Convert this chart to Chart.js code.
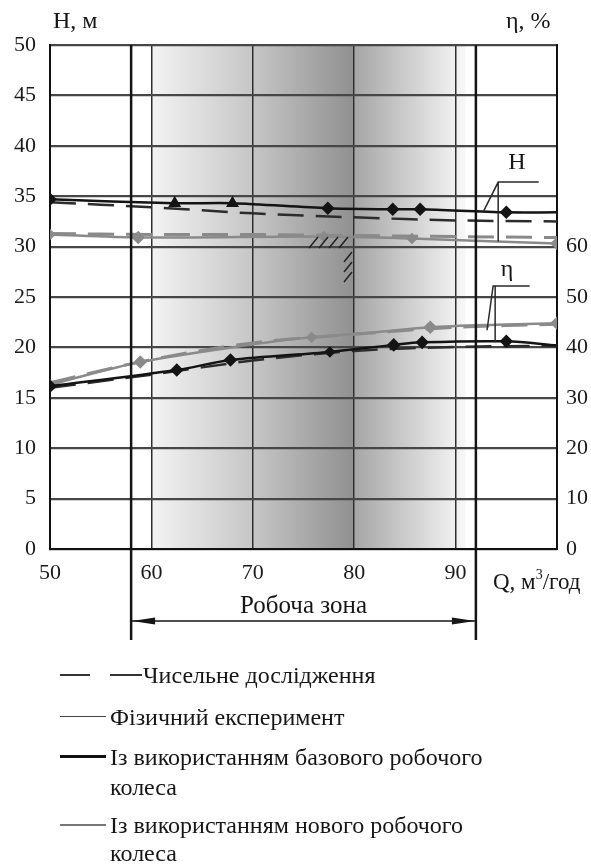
<!DOCTYPE html>
<html>
<head>
<meta charset="utf-8">
<script src="https://cdn.jsdelivr.net/npm/chart.js@4.4.1/dist/chart.umd.min.js"></script>
<style>
html, body { margin: 0; padding: 0; background: #fff; }
#wrap { position: relative; width: 591px; height: 865px; overflow: hidden; }
#c { position: absolute; left: 0; top: 0; }
.lg { position: absolute; font: 24px "Liberation Serif", "Times New Roman", serif; color: #161616; white-space: nowrap; line-height: 24px; height: 24px; }
.sw { position: absolute; height: 0; }
</style>
</head>
<body>
<div id="wrap">
  <canvas id="c" width="591" height="865"></canvas>

  <div class="sw" style="left:60px;top:674px;width:30px;border-top:2px solid #333"></div>
  <div class="sw" style="left:110px;top:674px;width:32px;border-top:2px solid #333"></div>
  <div class="lg" style="left:143px;top:663px">Чисельне дослідження</div>

  <div class="sw" style="left:60px;top:716px;width:46px;border-top:1.5px solid #444"></div>
  <div class="lg" style="left:110px;top:705px">Фізичний експеримент</div>

  <div class="sw" style="left:60px;top:755px;width:46px;border-top:3px solid #111"></div>
  <div class="lg" style="left:110px;top:745px">Із використанням базового робочого</div>
  <div class="lg" style="left:110px;top:775px">колеса</div>

  <div class="sw" style="left:60px;top:824px;width:46px;border-top:2px solid #777"></div>
  <div class="lg" style="left:110px;top:813px">Із використанням нового робочого</div>
  <div class="lg" style="left:110px;top:841px">колеса</div>
</div>
<script>
// осі
const qTicks = [50, 60, 70, 80, 90];
const etaTicks = [0, 10, 20, 30, 40, 50, 60];
const workZone = [58, 92];

// H, базове колесо, фізичний експеримент
const qHBaseExp = [50, 62.3, 68, 77.4, 83.8, 86.5, 95, 100];
const hBaseExp = [34.7, 34.3, 34.3, 33.8, 33.7, 33.7, 33.4, 33.4];
// чисельне дослідження (спільні Q)
const qNum = [50, 60, 70, 80, 90, 100];
const hBaseNum = [34.4, 33.9, 33.3, 32.9, 32.6, 32.5];
const hNewNum = [31.3, 31.2, 31.2, 31.1, 31.0, 30.9];
// H, нове колесо, експеримент
const qHNewExp = [50, 58.7, 77, 85.7, 94, 100];
const hNewExp = [31.2, 30.9, 31.0, 30.8, 30.5, 30.3];

// ККД
const qEtaBaseExp = [50, 62.5, 67.8, 77.6, 83.9, 86.7, 95, 100];
const etaBaseExp = [32.3, 35.5, 37.5, 39.1, 40.5, 41.0, 41.2, 40.4];
const etaBaseNum = [32.0, 34.6, 37.4, 39.3, 40.1, 40.3];
const qEtaNewExp = [50, 58.9, 70, 75.8, 82, 87.5, 94, 100];
const etaNewExp = [32.6, 37.1, 40.6, 42.0, 43.0, 44.0, 44.5, 44.8];
const etaNewNum = [33.0, 37.6, 40.9, 42.6, 44.0, 44.6];

const black = '#141414', gray = '#8a8a8a';
const dash = [26, 12];
const serif = '"Liberation Serif", "Times New Roman", serif';
const font = { family: serif, size: 22 };

function pts(qs, vs) { return qs.map((q, i) => ({ x: q, y: vs[i] })); }

const zonePlugin = {
  id: 'zone',
  beforeDraw(chart) {
    const { ctx, chartArea: a, scales: { x } } = chart;
    ctx.save();
    ctx.fillStyle = '#fff';
    ctx.fillRect(0, 0, chart.width, chart.height);
    const x60 = x.getPixelForValue(60), x80 = x.getPixelForValue(80), x91 = x.getPixelForValue(91);
    let g = ctx.createLinearGradient(x60, 0, x80, 0);
    g.addColorStop(0, '#f3f3f3');
    g.addColorStop(0.5, '#c6c6c6');
    g.addColorStop(1, '#909090');
    ctx.fillStyle = g;
    ctx.fillRect(x60, a.top, x80 - x60, a.bottom - a.top);
    g = ctx.createLinearGradient(x80, 0, x91, 0);
    g.addColorStop(0, '#a6a6a6');
    g.addColorStop(1, '#f8f8f8');
    ctx.fillStyle = g;
    ctx.fillRect(x80, a.top, x91 - x80, a.bottom - a.top);
    ctx.restore();
  },
  afterDraw(chart) {
    const { ctx, chartArea: a, scales: { x, y } } = chart;
    const px = v => x.getPixelForValue(v), py = v => y.getPixelForValue(v);
    ctx.save();
    ctx.strokeStyle = black;
    ctx.fillStyle = '#161616';
    // робоча зона
    const xl = px(workZone[0]), xr = px(workZone[1]);
    ctx.lineWidth = 2.5;
    ctx.beginPath();
    ctx.moveTo(xl, a.top); ctx.lineTo(xl, 640);
    ctx.moveTo(xr, a.top); ctx.lineTo(xr, 640);
    ctx.stroke();
    const ay = 621;
    ctx.lineWidth = 1.5;
    ctx.beginPath(); ctx.moveTo(xl, ay); ctx.lineTo(xr, ay); ctx.stroke();
    ctx.beginPath();
    ctx.moveTo(xl + 1, ay); ctx.lineTo(xl + 24, ay - 3.5); ctx.lineTo(xl + 24, ay + 3.5); ctx.closePath();
    ctx.moveTo(xr - 1, ay); ctx.lineTo(xr - 24, ay - 3.5); ctx.lineTo(xr - 24, ay + 3.5); ctx.closePath();
    ctx.fill();
    ctx.font = '25px ' + serif;
    ctx.textBaseline = 'middle';
    ctx.textAlign = 'center';
    ctx.fillText('Робоча зона', (xl + xr) / 2, 606);
    // підписи осей
    ctx.font = '24px ' + serif;
    ctx.textAlign = 'left';
    ctx.fillText('H, м', 53, 22);
    ctx.fillText('η, %', 506, 22);
    ctx.font = '23px ' + serif;
    ctx.fillText('Q, м', 493, 583);
    const w = ctx.measureText('Q, м').width;
    ctx.font = '14px ' + serif;
    ctx.fillText('3', 493 + w, 575);
    const w3 = ctx.measureText('3').width;
    ctx.font = '23px ' + serif;
    ctx.fillText('/год', 493 + w + w3, 583);
    // виноски H і η
    ctx.lineWidth = 1.5;
    ctx.strokeStyle = '#2a2a2a';
    ctx.beginPath();
    ctx.moveTo(px(98.2), py(36.4)); ctx.lineTo(px(94.2), py(36.4));
    ctx.lineTo(px(92.7), py(33.4));
    ctx.moveTo(px(94.2), py(36.4)); ctx.lineTo(px(94.2), py(30.5));
    ctx.moveTo(px(97.3), py(26.1)); ctx.lineTo(px(93.7), py(26.1));
    ctx.lineTo(px(93.1), py(21.7));
    ctx.moveTo(px(93.9), py(26.1)); ctx.lineTo(px(93.9), py(20.5));
    ctx.stroke();
    ctx.font = '24px ' + serif;
    ctx.textAlign = 'center';
    ctx.fillText('H', 517, 163);
    ctx.fillText('η', 507, 270);
    // штрихування
    ctx.lineWidth = 1.5;
    ctx.strokeStyle = '#222';
    ctx.beginPath();
    [309, 319, 329, 339].forEach(h => { ctx.moveTo(h, 248); ctx.lineTo(h + 9, 237); });
    [252, 262, 272].forEach(v => { ctx.moveTo(344, v + 10); ctx.lineTo(352, v); });
    ctx.stroke();
    ctx.restore();
  }
};

new Chart(document.getElementById('c'), {
  type: 'line',
  data: {
    datasets: [
      {
        data: pts(qHBaseExp, hBaseExp), yAxisID: 'y', borderColor: black, borderWidth: 2.5,
        pointRadius: [5, 5, 5, 5, 5, 5, 5, 0],
        pointStyle: ['rectRot', 'triangle', 'triangle', 'rectRot', 'rectRot', 'rectRot', 'rectRot', 'rectRot'],
        pointBackgroundColor: black, pointBorderColor: black, tension: 0.3
      },
      {
        data: pts(qNum, hBaseNum), yAxisID: 'y', borderColor: '#2c2c2c', borderWidth: 2.5,
        borderDash: dash, pointRadius: 0, tension: 0.3
      },
      {
        data: pts(qNum, hNewNum), yAxisID: 'y', borderColor: gray, borderWidth: 3,
        borderDash: dash, pointRadius: 0, tension: 0.3
      },
      {
        data: pts(qHNewExp, hNewExp), yAxisID: 'y', borderColor: gray, borderWidth: 2.5,
        pointRadius: [4, 5, 4, 4, 0, 5], pointStyle: 'rectRot',
        pointBackgroundColor: gray, pointBorderColor: gray, tension: 0.3
      },
      {
        data: pts(qEtaBaseExp, etaBaseExp), yAxisID: 'y2', borderColor: black, borderWidth: 2.5,
        pointRadius: [5, 5, 5, 4, 5, 5, 5, 0], pointStyle: 'rectRot',
        pointBackgroundColor: black, pointBorderColor: black, tension: 0.3
      },
      {
        data: pts(qNum, etaBaseNum), yAxisID: 'y2', borderColor: '#2c2c2c', borderWidth: 2.5,
        borderDash: dash, pointRadius: 0, tension: 0.3
      },
      {
        data: pts(qEtaNewExp, etaNewExp), yAxisID: 'y2', borderColor: gray, borderWidth: 2.5,
        pointRadius: [4, 5, 0, 4, 0, 5, 0, 5], pointStyle: 'rectRot',
        pointBackgroundColor: gray, pointBorderColor: gray, tension: 0.3
      },
      {
        data: pts(qNum, etaNewNum), yAxisID: 'y2', borderColor: gray, borderWidth: 3,
        borderDash: dash, pointRadius: 0, tension: 0.3
      }
    ]
  },
  options: {
    responsive: false,
    animation: false,
    layout: { padding: { top: 45 } },
    plugins: { legend: { display: false }, tooltip: { enabled: false } },
    scales: {
      x: {
        type: 'linear', min: 50, max: 100,
        afterBuildTicks: s => { s.ticks = [50, 60, 70, 80, 90, 100].map(v => ({ value: v })); },
        afterFit: s => { s.height = 316; },
        ticks: { callback: v => qTicks.includes(v) ? v : '', padding: 11, font, color: '#1a1a1a', maxRotation: 0 },
        grid: { color: '#2e2e2e', lineWidth: 1.5, drawTicks: false },
        border: { color: '#111', width: 2 }
      },
      y: {
        min: 0, max: 50,
        afterFit: s => { s.width = 50; },
        ticks: { stepSize: 5, padding: 14, font, color: '#1a1a1a' },
        grid: { color: '#474747', lineWidth: 2.2, drawTicks: false },
        border: { color: '#111', width: 2 }
      },
      y2: {
        position: 'right', min: 0, max: 100,
        afterFit: s => { s.width = 34; },
        ticks: { stepSize: 10, padding: 9, font, color: '#1a1a1a', callback: v => etaTicks.includes(v) ? v : '' },
        grid: { display: false, drawTicks: false },
        border: { color: '#111', width: 2 }
      }
    }
  },
  plugins: [zonePlugin]
});
</script>
</body>
</html>
